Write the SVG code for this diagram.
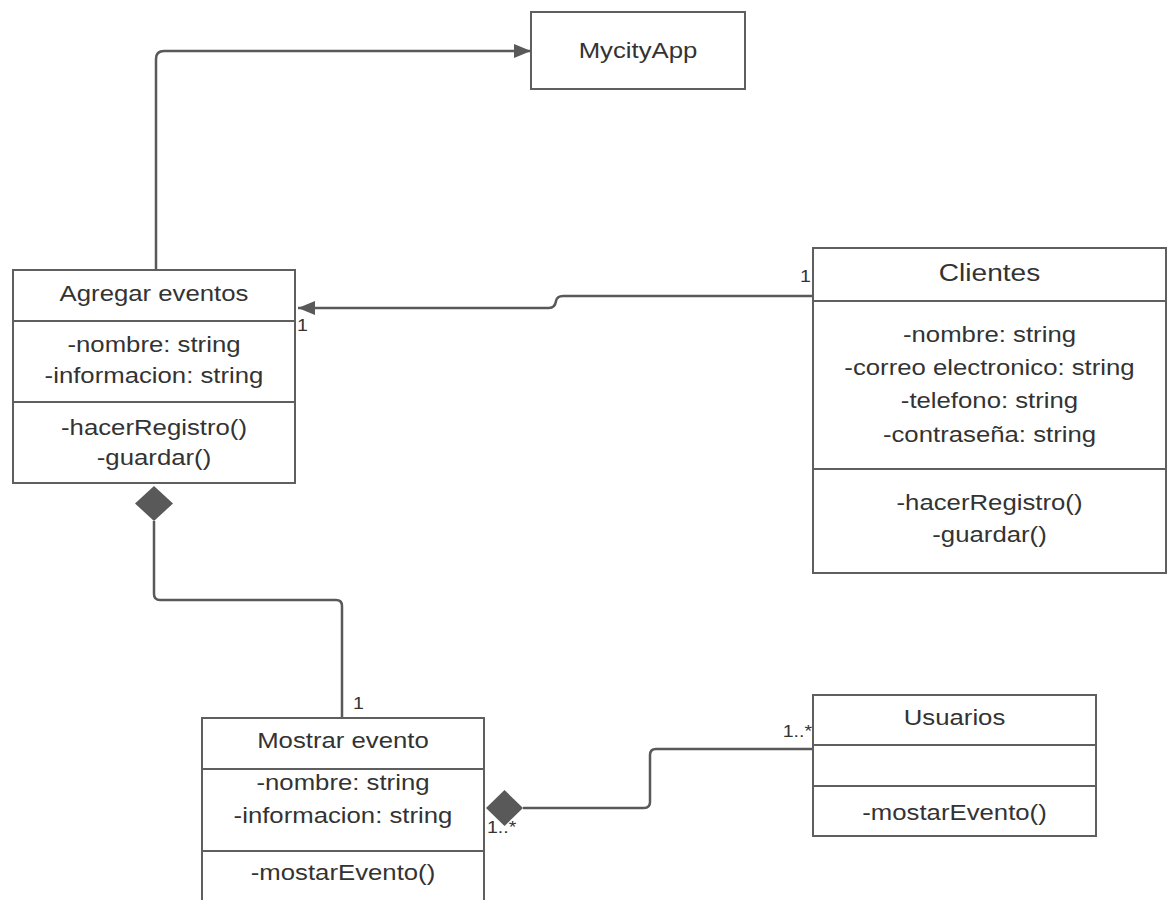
<svg xmlns="http://www.w3.org/2000/svg" width="1167" height="900" viewBox="0 0 1167 900">
<defs>
<marker id="arr" markerUnits="userSpaceOnUse" markerWidth="18" markerHeight="16" refX="17" refY="8" orient="auto">
<path d="M0 1 L17 8 L0 15 Z" fill="#595959"/>
</marker>
<style>
.box{fill:#fff;stroke:#5f5f5f;stroke-width:2}
.div{stroke:#5f5f5f;stroke-width:2}
.t{font-family:"Liberation Sans",Arial,sans-serif;font-size:22px;fill:#333;text-anchor:middle}
.big{font-size:24px}
.lbl{font-family:"Liberation Sans",Arial,sans-serif;font-size:17px;fill:#333}
.conn{fill:none;stroke:#595959;stroke-width:2.5}
.dia{fill:#595959}
</style>
</defs>
<rect width="1167" height="900" fill="#fff"/>
<g id="connectors">
<path class="conn" d="M156 270 V59 Q156 51 164 51 H531" marker-end="url(#arr)"/>
<path class="conn" d="M813 296 H563 Q557 296 556 301 Q555 308 549 308 H298" marker-end="url(#arr)"/>
<path class="conn" d="M154 521 V594 Q154 600 160 600 H336 Q342 600 342 606 V718"/>
<path class="conn" d="M523 808 H644 Q650 808 650 802 V755 Q650 749 656 749 H813"/>
<polygon class="dia" points="154,486 173,503.5 154,521 135,503.5"/>
<polygon class="dia" points="486,808 504.5,790 523,808 504.5,826"/>
<text class="lbl" transform="translate(297 331) scale(1.15 1)">1</text>
<text class="lbl" transform="translate(800 282) scale(1.15 1)">1</text>
<text class="lbl" transform="translate(353 709) scale(1.15 1)">1</text>
<text class="lbl" text-anchor="end" transform="translate(812 737) scale(1.15 1)">1..*</text>
<text class="lbl" transform="translate(487 833) scale(1.15 1)">1..*</text>
</g>
<g id="mycityapp">
<rect class="box" x="531" y="12" width="214" height="77"/>
<text class="t" transform="translate(638 58) scale(1.17 1)">MycityApp</text>
</g>
<g id="agregar">
<rect class="box" x="13" y="270" width="282" height="213"/>
<line class="div" x1="13" y1="321" x2="295" y2="321"/>
<line class="div" x1="13" y1="402" x2="295" y2="402"/>
<text class="t" transform="translate(154 301) scale(1.17 1)">Agregar eventos</text>
<text class="t" transform="translate(154 352) scale(1.17 1)">-nombre: string</text>
<text class="t" transform="translate(154 383) scale(1.17 1)">-informacion: string</text>
<text class="t" transform="translate(154 435) scale(1.17 1)">-hacerRegistro()</text>
<text class="t" transform="translate(154 465) scale(1.17 1)">-guardar()</text>
</g>
<g id="clientes">
<rect class="box" x="813" y="248" width="353" height="325"/>
<line class="div" x1="813" y1="301" x2="1166" y2="301"/>
<line class="div" x1="813" y1="469" x2="1166" y2="469"/>
<text class="t big" transform="translate(989.5 281) scale(1.17 1)">Clientes</text>
<text class="t" transform="translate(989.5 342) scale(1.17 1)">-nombre: string</text>
<text class="t" transform="translate(989.5 375) scale(1.17 1)">-correo electronico: string</text>
<text class="t" transform="translate(989.5 408) scale(1.17 1)">-telefono: string</text>
<text class="t" transform="translate(989.5 442) scale(1.17 1)">-contraseña: string</text>
<text class="t" transform="translate(989.5 510) scale(1.17 1)">-hacerRegistro()</text>
<text class="t" transform="translate(989.5 542) scale(1.17 1)">-guardar()</text>
</g>
<g id="mostrar">
<rect class="box" x="202" y="718" width="282" height="190"/>
<line class="div" x1="202" y1="769" x2="484" y2="769"/>
<line class="div" x1="202" y1="851" x2="484" y2="851"/>
<text class="t" transform="translate(343 748) scale(1.17 1)">Mostrar evento</text>
<text class="t" transform="translate(343 790) scale(1.17 1)">-nombre: string</text>
<text class="t" transform="translate(343 823) scale(1.17 1)">-informacion: string</text>
<text class="t" transform="translate(343 880) scale(1.17 1)">-mostarEvento()</text>
</g>
<g id="usuarios">
<rect class="box" x="813" y="695" width="283" height="141"/>
<line class="div" x1="813" y1="745" x2="1096" y2="745"/>
<line class="div" x1="813" y1="786" x2="1096" y2="786"/>
<text class="t" transform="translate(954.5 725) scale(1.17 1)">Usuarios</text>
<text class="t" transform="translate(954.5 820) scale(1.17 1)">-mostarEvento()</text>
</g>
</svg>
